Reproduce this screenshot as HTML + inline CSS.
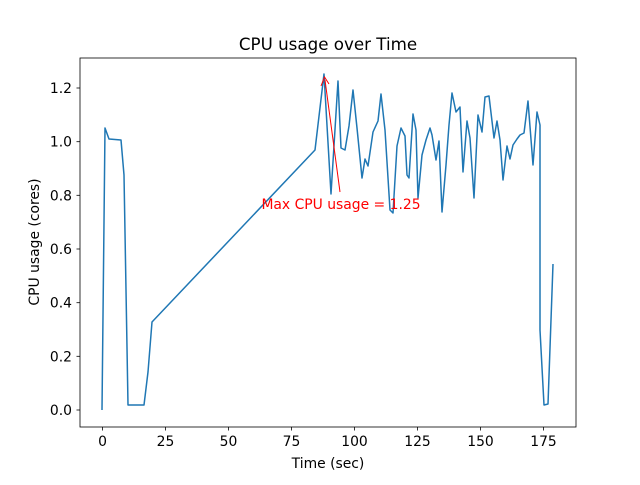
<!DOCTYPE html><html><head><style>body{margin:0;background:#fff}svg text{font-family:"DejaVu Sans","Liberation Sans",sans-serif}</style></head><body>
<svg width="640" height="480" xmlns="http://www.w3.org/2000/svg">
<rect x="80" y="58" width="496" height="369" fill="none" stroke="#000" stroke-width="0.8"/>
<g stroke="#000" stroke-width="0.8">
<line x1="102.5" y1="427" x2="102.5" y2="430.5"/><line x1="165.5" y1="427" x2="165.5" y2="430.5"/><line x1="228.5" y1="427" x2="228.5" y2="430.5"/><line x1="291.5" y1="427" x2="291.5" y2="430.5"/><line x1="354.5" y1="427" x2="354.5" y2="430.5"/><line x1="417.5" y1="427" x2="417.5" y2="430.5"/><line x1="480.5" y1="427" x2="480.5" y2="430.5"/><line x1="543.5" y1="427" x2="543.5" y2="430.5"/>
<line x1="76.5" y1="410" x2="80" y2="410"/><line x1="76.5" y1="356.3" x2="80" y2="356.3"/><line x1="76.5" y1="302.7" x2="80" y2="302.7"/><line x1="76.5" y1="249" x2="80" y2="249"/><line x1="76.5" y1="195.3" x2="80" y2="195.3"/><line x1="76.5" y1="141.7" x2="80" y2="141.7"/><line x1="76.5" y1="88" x2="80" y2="88"/>
</g>
<g font-size="13.9" text-anchor="middle" fill="#000">
<text x="102.5" y="446">0</text><text x="165.5" y="446">25</text><text x="228.5" y="446">50</text><text x="291.5" y="446">75</text><text x="354.5" y="446">100</text><text x="417.5" y="446">125</text><text x="480.5" y="446">150</text><text x="543.5" y="446">175</text>
</g>
<g font-size="13.9" text-anchor="end" fill="#000">
<text x="72" y="415">0.0</text><text x="72" y="361.3">0.2</text><text x="72" y="307.7">0.4</text><text x="72" y="254">0.6</text><text x="72" y="200.3">0.8</text><text x="72" y="146.7">1.0</text><text x="72" y="93">1.2</text>
</g>
<text x="328" y="468" font-size="13.9" text-anchor="middle">Time (sec)</text>
<text transform="translate(39,242) rotate(-90)" font-size="13.9" text-anchor="middle">CPU usage (cores)</text>
<text x="328" y="50" font-size="16.7" text-anchor="middle">CPU usage over Time</text>
<polyline fill="none" stroke="#1f77b4" stroke-width="1.5" stroke-linejoin="round" points="102,410 105,128 109,139 121,140 124,175 128,405 144,405 148,372 152,322 315,150 324,74 331,194 338,81 341,148 345,150 349,126 353,90 357,128 362,178 365,159 368,166 373,132 378,121 381,94 385,130 390,210 393,213 397,146 401,128 405,136 407,175 409,178 413,114 416,130 418,198 422,155 426,140 430,128 432,135 436,160 439,141 442,212 446,165 449,125 452,93 456,112 460,107 463,172 467,121 470,138 474,198 478,115 482,132 485,97 489,96 494,138 497,121 500,140 503,180 507,146 510,159 513,145 517,139 520,135 524,133 528,101 533,165 537,112 540,125 540,330 544,405 548,404 553,264"/>
<line x1="340" y1="192" x2="325" y2="80" stroke="red" stroke-width="1"/>
<polyline points="321,86 324.5,77 329,84" fill="none" stroke="red" stroke-width="1"/>
<text x="341" y="209" font-size="13.9" fill="red" text-anchor="middle">Max CPU usage = 1.25</text>
</svg></body></html>
